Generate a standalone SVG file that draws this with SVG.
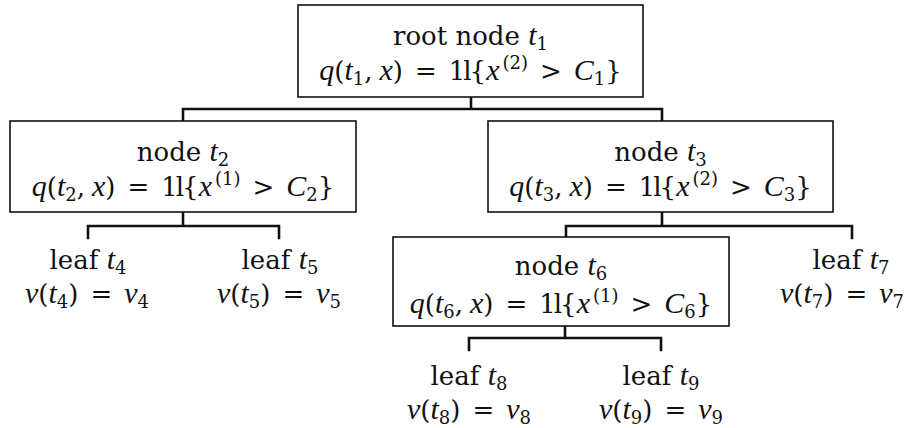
<svg xmlns="http://www.w3.org/2000/svg" width="916" height="428" viewBox="0 0 916 428">
<style>
.box{fill:#fff;stroke:#111;stroke-width:1.6}
.con{fill:none;stroke:#111;stroke-width:2.6;stroke-linecap:square}
text{font-family:"DejaVu Serif","Liberation Serif",serif;font-size:26px;fill:#111;text-anchor:middle}
.i{font-family:"Liberation Serif",serif;font-style:italic;font-size:30px}
.s{font-size:18px}
.ind{letter-spacing:-2px}
</style>
<rect width="916" height="428" fill="#fff"/>
<g id="connectors">
<path class="con" d="M471 97V109M183 121V109H662V121"/>
<path class="con" d="M183 212V226M88 238V226H279V238"/>
<path class="con" d="M662 212V226M566 237V226H852V238"/>
<path class="con" d="M565 326V338M469 350V338H661V350"/>
</g>
<g id="t1">
<rect class="box" x="298" y="5" width="345" height="92"/>
<text x="470.5" y="45">root node <tspan class="i">t</tspan><tspan class="s" dy="5">1</tspan></text>
<text x="470.5" y="80"><tspan class="i">q</tspan>(<tspan class="i">t</tspan><tspan class="s" dy="5">1</tspan><tspan dy="-5">,</tspan><tspan class="i" dx="7">x</tspan>)<tspan dx="12">=</tspan><tspan class="ind" dx="12">1l{</tspan><tspan class="i" dx="2">x</tspan><tspan class="s" dx="3" dy="-11">(2)</tspan><tspan dy="11" dx="12">&gt;</tspan><tspan class="i" dx="12">C</tspan><tspan class="s" dy="5">1</tspan><tspan dy="-5">}</tspan></text>
</g>
<g id="t2">
<rect class="box" x="10" y="121" width="346" height="91"/>
<text x="183" y="161">node <tspan class="i">t</tspan><tspan class="s" dy="5">2</tspan></text>
<text x="183" y="196"><tspan class="i">q</tspan>(<tspan class="i">t</tspan><tspan class="s" dy="5">2</tspan><tspan dy="-5">,</tspan><tspan class="i" dx="7">x</tspan>)<tspan dx="12">=</tspan><tspan class="ind" dx="12">1l{</tspan><tspan class="i" dx="2">x</tspan><tspan class="s" dx="3" dy="-11">(1)</tspan><tspan dy="11" dx="12">&gt;</tspan><tspan class="i" dx="12">C</tspan><tspan class="s" dy="5">2</tspan><tspan dy="-5">}</tspan></text>
</g>
<g id="t3">
<rect class="box" x="488" y="121" width="345" height="91"/>
<text x="660.5" y="161">node <tspan class="i">t</tspan><tspan class="s" dy="5">3</tspan></text>
<text x="660.5" y="196"><tspan class="i">q</tspan>(<tspan class="i">t</tspan><tspan class="s" dy="5">3</tspan><tspan dy="-5">,</tspan><tspan class="i" dx="7">x</tspan>)<tspan dx="12">=</tspan><tspan class="ind" dx="12">1l{</tspan><tspan class="i" dx="2">x</tspan><tspan class="s" dx="3" dy="-11">(2)</tspan><tspan dy="11" dx="12">&gt;</tspan><tspan class="i" dx="12">C</tspan><tspan class="s" dy="5">3</tspan><tspan dy="-5">}</tspan></text>
</g>
<g id="t4">
<text x="88" y="269">leaf <tspan class="i">t</tspan><tspan class="s" dy="5">4</tspan></text>
<text x="87" y="303"><tspan class="i">v</tspan>(<tspan class="i">t</tspan><tspan class="s" dy="5">4</tspan><tspan dy="-5">)</tspan><tspan dx="12">=</tspan><tspan class="i" dx="12">v</tspan><tspan class="s" dy="5">4</tspan></text>
</g>
<g id="t5">
<text x="280" y="269">leaf <tspan class="i">t</tspan><tspan class="s" dy="5">5</tspan></text>
<text x="279" y="303"><tspan class="i">v</tspan>(<tspan class="i">t</tspan><tspan class="s" dy="5">5</tspan><tspan dy="-5">)</tspan><tspan dx="12">=</tspan><tspan class="i" dx="12">v</tspan><tspan class="s" dy="5">5</tspan></text>
</g>
<g id="t6">
<rect class="box" x="393" y="237" width="336" height="89"/>
<text x="561" y="275">node <tspan class="i">t</tspan><tspan class="s" dy="5">6</tspan></text>
<text x="561" y="313"><tspan class="i">q</tspan>(<tspan class="i">t</tspan><tspan class="s" dy="5">6</tspan><tspan dy="-5">,</tspan><tspan class="i" dx="7">x</tspan>)<tspan dx="12">=</tspan><tspan class="ind" dx="12">1l{</tspan><tspan class="i" dx="2">x</tspan><tspan class="s" dx="3" dy="-11">(1)</tspan><tspan dy="11" dx="12">&gt;</tspan><tspan class="i" dx="12">C</tspan><tspan class="s" dy="5">6</tspan><tspan dy="-5">}</tspan></text>
</g>
<g id="t7">
<text x="851" y="269">leaf <tspan class="i">t</tspan><tspan class="s" dy="5">7</tspan></text>
<text x="842" y="303"><tspan class="i">v</tspan>(<tspan class="i">t</tspan><tspan class="s" dy="5">7</tspan><tspan dy="-5">)</tspan><tspan dx="12">=</tspan><tspan class="i" dx="12">v</tspan><tspan class="s" dy="5">7</tspan></text>
</g>
<g id="t8">
<text x="469" y="385">leaf <tspan class="i">t</tspan><tspan class="s" dy="5">8</tspan></text>
<text x="469" y="419"><tspan class="i">v</tspan>(<tspan class="i">t</tspan><tspan class="s" dy="5">8</tspan><tspan dy="-5">)</tspan><tspan dx="12">=</tspan><tspan class="i" dx="12">v</tspan><tspan class="s" dy="5">8</tspan></text>
</g>
<g id="t9">
<text x="661" y="385">leaf <tspan class="i">t</tspan><tspan class="s" dy="5">9</tspan></text>
<text x="661" y="419"><tspan class="i">v</tspan>(<tspan class="i">t</tspan><tspan class="s" dy="5">9</tspan><tspan dy="-5">)</tspan><tspan dx="12">=</tspan><tspan class="i" dx="12">v</tspan><tspan class="s" dy="5">9</tspan></text>
</g>
</svg>
